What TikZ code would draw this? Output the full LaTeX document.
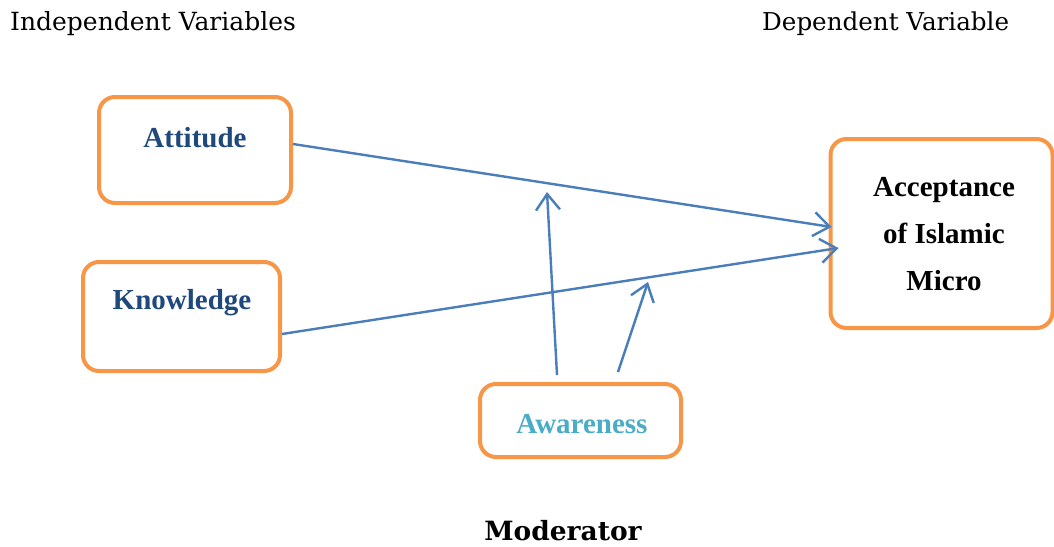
\documentclass[tikz,border=0pt]{standalone}
\usepackage{fontspec}
\setmainfont{Liberation Serif}
\newfontfamily\camb{DejaVu Serif}
\usetikzlibrary{arrows.meta}
\definecolor{boxorange}{HTML}{F79646}
\definecolor{arrblue}{HTML}{4A7EBB}
\definecolor{navy}{HTML}{1F497D}
\definecolor{aqua}{HTML}{4BACC6}
\begin{document}
\begin{tikzpicture}[x=1pt,y=-1pt,
  box/.style={draw=boxorange, line width=4pt, rounded corners=16pt, fill=white, inner sep=0pt},
  lbl/.style={font=\fontsize{29}{47}\selectfont\bfseries, inner sep=0pt, align=center},
  conn/.style={draw=arrblue, line width=2.4pt, -{Straight Barb[length=16pt,width=24pt,line width=2.4pt]}},
  hdr/.style={font=\camb\fontsize{25}{29}\selectfont, inner sep=0pt}]
\useasboundingbox (0,0) rectangle (1054,546);
% boxes
\node[box, minimum width=192pt, minimum height=106pt] (att) at (195,150) {};
\node[box, minimum width=197pt, minimum height=109pt] (kno) at (181.5,316.5) {};
\node[box, minimum width=222pt, minimum height=189pt] (acc) at (941.5,233.5) {};
\node[box, minimum width=201pt, minimum height=73pt] (aw) at (580.5,420.5) {};
% labels
\node[lbl, text=navy] (atttxt) at (195,138) {Attitude};
\node[lbl, text=navy] (knotxt) at (182,303) {Knowledge};
\node[lbl, text=black] (acctxt) at (944,234) {Acceptance\\of Islamic\\Micro};
\node[lbl, text=aqua] (awtxt) at (582,424) {Awareness};
% headers
\node[hdr, anchor=west] (indep) at (10,24) {Independent Variables};
\node[hdr, anchor=west, font=\camb\fontsize{24.6}{29}\selectfont] (dep) at (762,24) {Dependent Variable};
\node[hdr, font=\camb\fontsize{26.5}{30}\selectfont\bfseries] (mod) at (563,531) {Moderator};
% moderator targets
\coordinate (m1) at (547,192);
\coordinate (m2) at (648,282);
% connectors
\draw[conn] ([yshift=6pt]att.east) -- ([xshift=3pt,yshift=6.5pt]acc.west);
\draw[conn] ([yshift=-17.5pt]kno.east) -- ([xshift=10pt,yshift=-14.5pt]acc.west);
\draw[conn] ([xshift=-23.5pt,yshift=7pt]aw.north) -- (m1);
\draw[conn] ([xshift=37.5pt,yshift=10pt]aw.north) -- (m2);
\end{tikzpicture}
\end{document}
